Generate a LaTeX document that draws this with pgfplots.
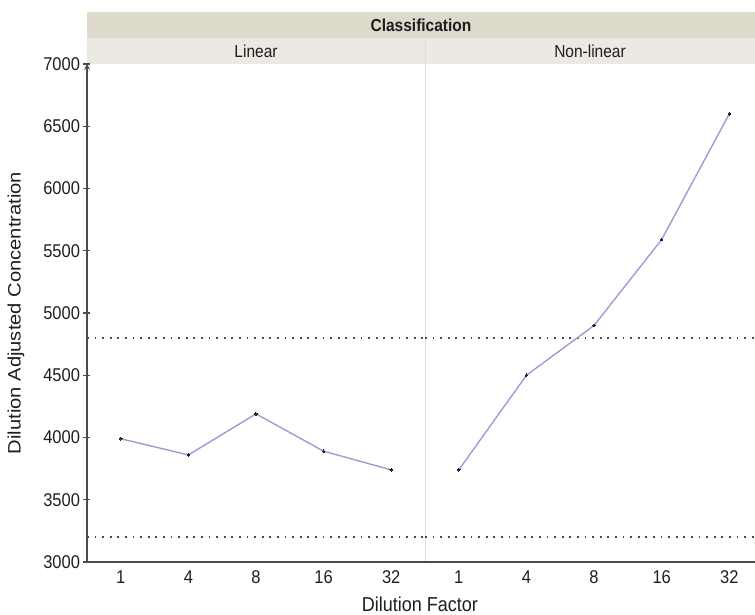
\documentclass[border=0pt]{standalone}
\usepackage{fontspec}
\setmainfont{Liberation Sans}
\usepackage{pgfplots}
\pgfplotsset{compat=1.18}
\definecolor{band}{RGB}{221,218,204}
\definecolor{strip}{RGB}{235,233,225}
\definecolor{lineblue}{RGB}{152,158,214}
\definecolor{axisgray}{RGB}{75,75,75}
\definecolor{sepgray}{RGB}{218,218,218}
\definecolor{txt}{RGB}{30,30,30}
\newcommand{\tall}[1]{\scalebox{1}[1.12]{#1}}

\pgfplotsset{
  base/.style={
    scale only axis, height=498pt, ymin=3000, ymax=7000, xmin=0.5,
    anchor=south west, clip=false,
    xtick={1,2,3,4,5}, xticklabels={\tall{1},\tall{4},\tall{8},\tall{16},\tall{32}},
    axis x line=bottom,
    axis line style={-, axisgray, line width=1.5pt},
    tick align=outside,
    major tick length=7pt,
    xtick style={draw=none},
    ytick style={axisgray, line width=1.1pt},
    tick label style={font=\fontsize{16.5}{19}\selectfont, text=txt},
    xticklabel style={yshift=2pt},
  },
  trend/.style={lineblue, line width=1.4pt, mark=*, mark size=1.3pt,
    mark options={txt, fill=txt, line width=0pt}},
  ref/.style={axisgray, line width=1.8pt, dash pattern=on 1.8pt off 5.8pt, forget plot},
}

\begin{document}
\begin{tikzpicture}[x=1pt,y=1pt]
\path[use as bounding box] (-87,-53) rectangle (668,562);
\fill[band] (0,524) rectangle (668,550);
\fill[strip] (0,498) rectangle (668,524);
\draw[sepgray, line width=1pt] (338,0) -- (338,524);
\node[font=\bfseries\fontsize{15.5}{18}\selectfont, text=txt] at (334,537) {\tall{Classification}};
\node[font=\fontsize{15.5}{18}\selectfont, text=txt] at (169,511) {\tall{Linear}};
\node[font=\fontsize{15.5}{18}\selectfont, text=txt] at (503,511) {\tall{Non-linear}};

\begin{axis}[base, at={(0,0)}, width=338pt, xmax=5.5,
  axis y line=left,
  ytick={3000,3500,4000,4500,5000,5500,6000,6500,7000},
  yticklabels={\tall{3000},\tall{3500},\tall{4000},\tall{4500},\tall{5000},\tall{5500},\tall{6000},\tall{6500},\tall{7000}},
  ylabel={\scalebox{1.12}[1]{Dilution Adjusted Concentration}},
  ylabel style={at={(axis description cs:-0.21,0.5)}, anchor=center,
    font=\fontsize{18}{21}\selectfont, text=txt},
]
\addplot[ref] coordinates {(0.5,4800) (5.5,4800)};
\addplot[ref] coordinates {(0.5,3200) (5.5,3200)};
\addplot[trend] coordinates {(1,3990) (2,3860) (3,4190) (4,3890) (5,3740)};
\end{axis}

\begin{axis}[base, at={(338pt,0)}, width=330pt, xmax=5.38,
  axis y line=none,
]
\addplot[ref] coordinates {(0.5,4800) (5.38,4800)};
\addplot[ref] coordinates {(0.5,3200) (5.38,3200)};
\addplot[trend] coordinates {(1,3740) (2,4500) (3,4900) (4,5590) (5,6600)};
\end{axis}

\node[font=\fontsize{18}{21}\selectfont, text=txt] at (333,-42) {\tall{Dilution Factor}};
\end{tikzpicture}
\end{document}
